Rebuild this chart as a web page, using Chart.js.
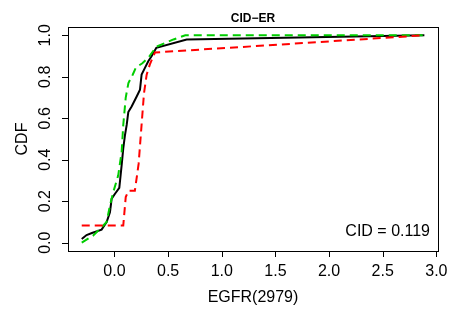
<!DOCTYPE html>
<html>
<head>
<meta charset="utf-8">
<script src="https://cdn.jsdelivr.net/npm/chart.js@4"></script>
<style>
  html, body { margin: 0; padding: 0; background: #fff; }
  #wrap { width: 449px; height: 311px; }
</style>
</head>
<body>
<div id="wrap"><canvas id="cdfChart" width="449" height="311"></canvas></div>
<script>
// ECDF curves
const allX = [-0.305, -0.26, -0.21, -0.12, -0.073, -0.042, -0.026, 0.005, 0.045, 0.067, 0.082, 0.098, 0.114, 0.129, 0.16, 0.207, 0.238, 0.253, 0.284, 0.315, 0.347, 0.39, 0.673, 2.888];
const allY = [0.018, 0.037, 0.047, 0.063, 0.099, 0.147, 0.212, 0.236, 0.264, 0.374, 0.455, 0.519, 0.568, 0.63, 0.657, 0.705, 0.738, 0.811, 0.843, 0.875, 0.9, 0.94, 0.98, 1.0];

const greenX = [-0.305, -0.2, -0.12, -0.073, -0.042, -0.011, 0.035, 0.067, 0.082, 0.105, 0.13, 0.17, 0.2, 0.26, 0.32, 0.39, 0.55, 0.66, 2.888];
const greenY = [0.0, 0.034, 0.074, 0.1, 0.18, 0.244, 0.325, 0.438, 0.568, 0.7, 0.77, 0.81, 0.845, 0.865, 0.895, 0.945, 0.98, 1.0, 1.0];

const redX = [-0.305, 0.082, 0.105, 0.13, 0.19, 0.225, 0.25, 0.275, 0.3, 0.33, 0.377, 2.888];
const redY = [0.083, 0.083, 0.22, 0.25, 0.25, 0.38, 0.55, 0.72, 0.81, 0.86, 0.917, 1.0];

const xTicks = [0, 0.5, 1, 1.5, 2, 2.5, 3];
const yTicks = [0, 0.2, 0.4, 0.6, 0.8, 1.0];

const mainTitle = 'CID\u2212ER';
const xTitle = 'EGFR(2979)';
const yTitle = 'CDF';
const cidText = 'CID = 0.119';

const toPoints = (xs, ys) => xs.map((x, i) => ({ x, y: ys[i] }));

// R style axes, box and labels
const rAxes = {
  id: 'rAxes',
  afterDraw(chart) {
    const { ctx, chartArea: a, scales: { x, y } } = chart;
    ctx.save();
    ctx.strokeStyle = '#000';
    ctx.lineWidth = 1;
    ctx.strokeRect(Math.round(a.left) + 0.5, Math.round(a.top) + 0.5,
      Math.round(a.right - a.left), Math.round(a.bottom - a.top));

    ctx.fillStyle = '#000';
    ctx.font = '16px "Liberation Sans", Arial, sans-serif';

    // x axis
    ctx.beginPath();
    xTicks.forEach(v => {
      const px = Math.round(x.getPixelForValue(v)) + 0.5;
      ctx.moveTo(px, a.bottom);
      ctx.lineTo(px, a.bottom + 6);
    });
    ctx.stroke();
    ctx.textAlign = 'center';
    ctx.textBaseline = 'alphabetic';
    xTicks.forEach(v => {
      ctx.fillText(v.toFixed(1), x.getPixelForValue(v), 276);
    });

    // y axis
    ctx.beginPath();
    yTicks.forEach(v => {
      const py = Math.round(y.getPixelForValue(v)) + 0.5;
      ctx.moveTo(a.left, py);
      ctx.lineTo(a.left - 6, py);
    });
    ctx.stroke();
    yTicks.forEach(v => {
      ctx.save();
      ctx.translate(50, y.getPixelForValue(v));
      ctx.rotate(-Math.PI / 2);
      ctx.fillText(v.toFixed(1), 0, 0);
      ctx.restore();
    });

    // titles
    const cx = (a.left + a.right) / 2;
    const cy = (a.top + a.bottom) / 2;
    ctx.fillText(xTitle, cx, 302);
    ctx.save();
    ctx.translate(27, cy);
    ctx.rotate(-Math.PI / 2);
    ctx.fillText(yTitle, 0, 0);
    ctx.restore();

    ctx.textAlign = 'right';
    ctx.fillText(cidText, 430, 236);

    ctx.font = 'bold 12px "Liberation Sans", Arial, sans-serif';
    ctx.textAlign = 'center';
    ctx.fillText(mainTitle, cx, 22);
    ctx.restore();
  }
};

new Chart(document.getElementById('cdfChart'), {
  type: 'line',
  data: {
    datasets: [
      { data: toPoints(redX, redY), borderColor: '#ff0000', borderDash: [8, 5], borderWidth: 2 },
      { data: toPoints(greenX, greenY), borderColor: '#00cd00', borderDash: [8, 5], borderWidth: 2 },
      { data: toPoints(allX, allY), borderColor: '#000000', borderWidth: 2 }
    ]
  },
  options: {
    responsive: false,
    animation: false,
    layout: { padding: { left: 68, right: 11, top: 27, bottom: 60 } },
    elements: { point: { radius: 0 }, line: { tension: 0, fill: false } },
    plugins: { legend: { display: false }, tooltip: { enabled: false } },
    scales: {
      x: { type: 'linear', min: -0.433, max: 3.015, display: false },
      y: { type: 'linear', min: -0.04, max: 1.04, display: false }
    }
  },
  plugins: [rAxes]
});
</script>
</body>
</html>
